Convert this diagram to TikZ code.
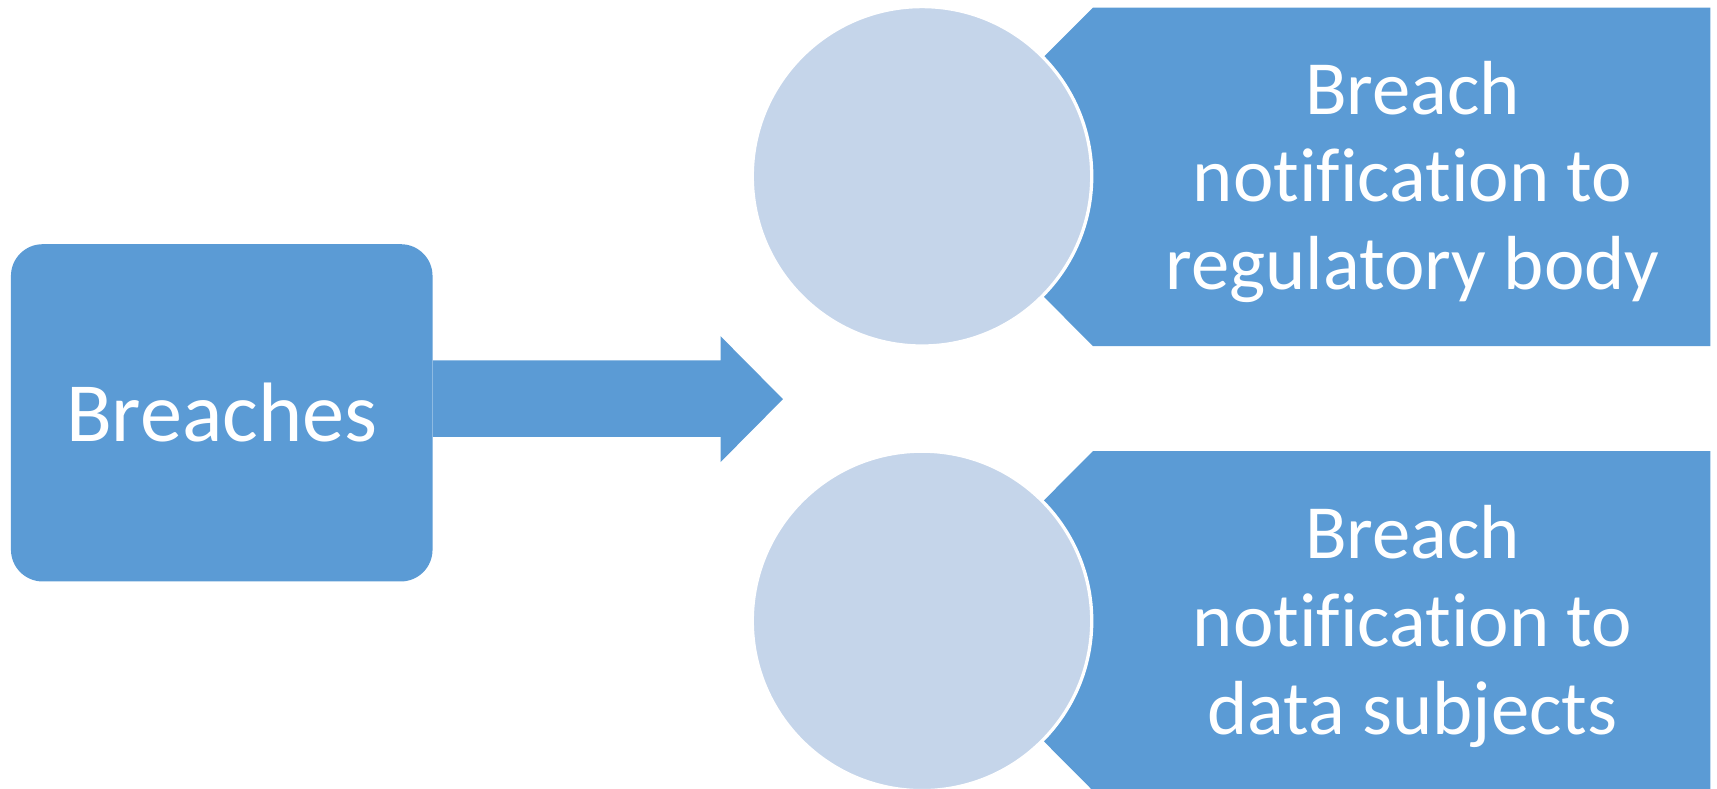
\documentclass[tikz,border=0pt]{standalone}
\usepackage{fontspec}
\setmainfont{Carlito}[Ligatures={NoCommon}]
\definecolor{mainblue}{HTML}{5B9BD5}
\definecolor{lightblue}{HTML}{C5D5EA}
\begin{document}
\begin{tikzpicture}[x=1pt,y=-1pt,
  circ/.style={circle,fill=lightblue,draw=white,line width=3pt,minimum size=310pt,inner sep=0pt},
  bigtxt/.style={text=white,align=center,font=\fontsize{70}{80}\selectfont,inner sep=0pt},
  mainbox/.style={fill=mainblue,rounded corners=29pt,minimum width=385pt,minimum height=308pt,inner sep=0pt,text=white,font=\fontsize{77}{90}\selectfont}]
\useasboundingbox (0,0) rectangle (1568,720.5);
% chevron panels
\fill[mainblue] (844,161) -- (998,7) -- (1562,7) -- (1562,316) -- (998,316) -- cycle;
\fill[mainblue] (844,567) -- (998,412) -- (1562,412) -- (1562,722) -- (998,722) -- cycle;
% circles
\node[circ] (c1) at (842,161) {};
\node[circ] (c2) at (842,567) {};
% left box
\node[mainbox] (breaches) at (202.5,377) {Breaches};
% block arrow
\fill[mainblue] (breaches.east |- 0,329) -- (658,329) -- (658,307) -- (715,364.5) -- (658,422) -- (658,399) -- (breaches.east |- 0,399) -- cycle;
% texts
\node[bigtxt] (t1) at (1290,166) {Breach\\notification to\\regulatory body};
\node[bigtxt] (t2) at (1290,572) {Breach\\notification to\\data subjects};
\end{tikzpicture}
\end{document}
